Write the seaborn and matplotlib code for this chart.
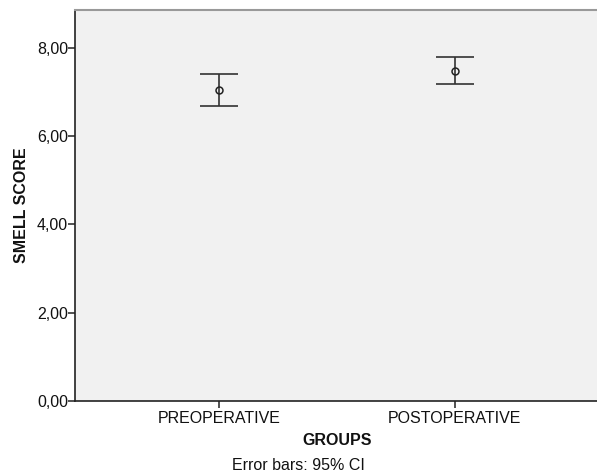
import matplotlib
matplotlib.use('Agg')
import matplotlib.pyplot as plt
import seaborn as sns

# Values
groups = ['PREOPERATIVE', 'POSTOPERATIVE']
means = [7.04, 7.48]
ci_low = [6.68, 7.19]
ci_high = [7.40, 7.80]
y_ticks = [0, 2, 4, 6, 8]
y_tick_labels = ['0,00', '2,00', '4,00', '6,00', '8,00']

sns.set_style('white')
plt.rcParams['font.family'] = ['Liberation Sans', 'DejaVu Sans']

fig = plt.figure(figsize=(5.97, 4.75), dpi=100)
ax = fig.add_axes([0.1256, 0.1558, 0.8782, 0.8232])
ax.set_facecolor('#f1f1f1')

# mean markers
sns.pointplot(x=groups, y=means, linestyle='none', marker='o', markersize=5,
              markerfacecolor='none', markeredgecolor='#222222', markeredgewidth=1.1,
              color='#222222', errorbar=None, ax=ax)

# 95% CI error bars
yerr = [[m - lo for m, lo in zip(means, ci_low)], [hi - m for m, hi in zip(means, ci_high)]]
ax.errorbar(range(len(groups)), means, yerr=yerr, fmt='none', ecolor='#333333',
            elinewidth=1.2, capsize=13.5, capthick=1.2, zorder=1)

ax.set_ylim(0, 8.86)
ax.set_xlim(-0.613, 1.613)
ax.set_yticks(y_ticks)
ax.set_yticklabels(y_tick_labels)

for side in ['left', 'bottom']:
    ax.spines[side].set_color('#222222')
    ax.spines[side].set_linewidth(1.2)
ax.spines['top'].set_color('#999999')
ax.spines['top'].set_linewidth(1.5)
ax.spines['right'].set_visible(False)

ax.tick_params(axis='y', direction='out', length=5, width=1.1, color='#222222',
               labelsize=11.5, pad=0, left=True, labelcolor='#111111')
ax.tick_params(axis='x', direction='out', length=5, width=1.1, color='#222222',
               labelsize=11.5, pad=2, bottom=True, labelcolor='#111111')

ax.set_xlabel('GROUPS', fontsize=11.5, fontweight='bold', labelpad=5, color='#111111')
ax.set_ylabel('SMELL SCORE', fontsize=11.5, fontweight='bold', labelpad=6, color='#111111')

fig.text(0.5, 0.021, 'Error bars: 95% CI', ha='center', va='center', fontsize=11.5,
         color='#111111')

fig.savefig('out.png', dpi=100)
